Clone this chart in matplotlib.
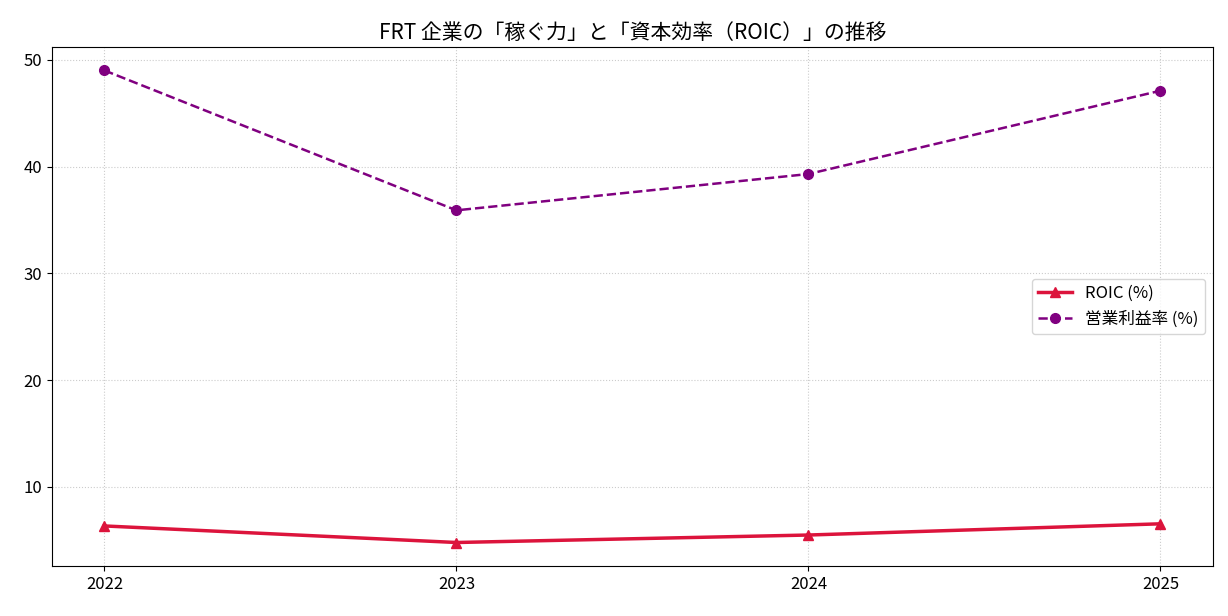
import matplotlib
matplotlib.use('Agg')
import matplotlib.pyplot as plt

plt.rcParams['font.family'] = ['Noto Sans CJK JP', 'DejaVu Sans']

# data
years = ['2022', '2023', '2024', '2025']
roic = [6.35, 4.8, 5.5, 6.55]
op_margin = [49.0, 35.9, 39.3, 47.1]

fig, ax = plt.subplots(figsize=(12.28, 6.16), dpi=100)
ax.plot(years, roic, color='crimson', marker='^', linewidth=2.5, markersize=7, label='ROIC (%)')
ax.plot(years, op_margin, color='purple', marker='o', linestyle='--', linewidth=1.8, markersize=7, label='営業利益率 (%)')

ax.set_title('FRT 企業の「稼ぐ力」と「資本効率（ROIC）」の推移', fontsize=15)
ax.grid(True, linestyle=':', color='#cccccc')
ax.tick_params(labelsize=12)
ax.legend(loc='center right', fontsize=12)

fig.subplots_adjust(left=0.042, right=0.988, top=0.924, bottom=0.081)
fig.savefig('out.png')
